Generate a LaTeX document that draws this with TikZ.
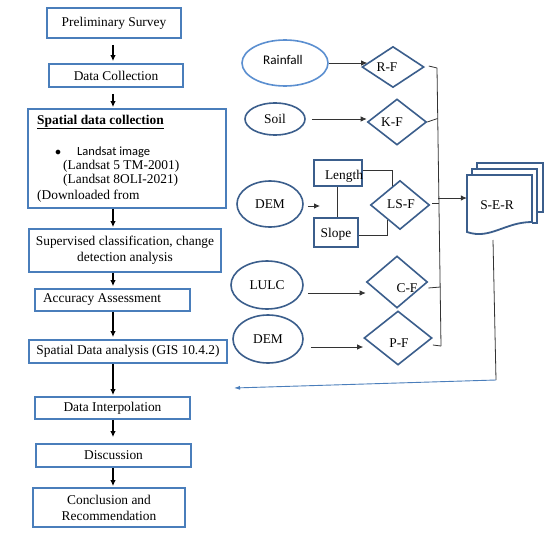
\documentclass[tikz,border=0pt]{standalone}
\usepackage{fontspec}
\setmainfont{Liberation Serif}
\newfontfamily\calib{Carlito}
\usetikzlibrary{shapes.geometric,arrows.meta,calc}
\definecolor{boxblue}{HTML}{4A7EBB}
\definecolor{dblue}{HTML}{3B5E8C}
\definecolor{lblue}{HTML}{5B8FD0}
\definecolor{conncol}{HTML}{333333}
\begin{document}
\begin{tikzpicture}[x=1pt,y=-1pt,
  font=\fontsize{13.4}{16}\selectfont,
  lbox/.style={draw=boxblue, line width=1.8pt, rectangle, inner sep=0pt, align=center},
  ell/.style={ellipse, draw=dblue, line width=1.6pt, inner sep=0pt},
  dia/.style={diamond, draw=dblue, line width=1.6pt, inner sep=0pt},
  sbox/.style={draw=dblue, line width=1.8pt, rectangle, inner sep=0pt},
  txt/.style={inner sep=0pt},
  arr/.style={-{Latex[length=6pt,width=5.5pt]}, line width=1.2pt},
  conn/.style={draw=conncol, line width=0.8pt},
  carr/.style={conn, -{Latex[length=6pt,width=5.5pt]}},
  barr/.style={draw=boxblue, line width=0.9pt, -{Latex[length=6pt,width=4pt]}}]
\useasboundingbox (0,0) rectangle (554,538);
\fill[white] (0,0) rectangle (554,538);

% ---------- left column ----------
\node[lbox, minimum width=134pt, minimum height=30pt] (ps) at (114,23) {Preliminary Survey};
\node[lbox, minimum width=134pt, minimum height=23pt] (dc) at (116,75.5) {Data Collection};
\node[lbox, minimum width=198pt, minimum height=99pt] (sdc) at (127,158.5) {};
\node[txt, anchor=west] (sdct) at (37,122) {\underline{\textbf{Spatial data collection}}};
\node[txt] (bul) at (58,153) {\calib\fontsize{12.5}{14}\selectfont$\bullet$};
\node[txt, anchor=west] (lsi) at (77,152) {\calib\fontsize{12.5}{14}\selectfont Landsat image};
\node[txt, anchor=west] (ls5) at (63,166) {(Landsat 5 TM-2001)};
\node[txt, anchor=west] (ls8) at (63,180) {(Landsat 8OLI-2021)};
\node[txt, anchor=west] (dlf) at (37,196) {(Downloaded from};
\node[lbox, minimum width=192pt, minimum height=43pt] (sup) at (125,250.5) {Supervised classification, change\\detection analysis};
\node[lbox, minimum width=155pt, minimum height=22pt] (acc) at (112.5,300) {};
\node[txt] (acct) at (102,300) {Accuracy Assessment};
\node[lbox, minimum width=198pt, minimum height=23pt] (sda) at (128,351.5) {Spatial Data analysis (GIS 10.4.2)};
\node[lbox, minimum width=155pt, minimum height=22pt] (di) at (112.5,408) {Data Interpolation};
\node[lbox, minimum width=155pt, minimum height=23pt] (dis) at (113.5,455.5) {Discussion};
\node[lbox, minimum width=152pt, minimum height=39pt] (con) at (109,507.5) {Conclusion and\\Recommendation};

\coordinate (col) at (113,0);
\draw[arr] ([yshift=-6pt]ps.south -| col) -- ([yshift=2pt]dc.north -| col);
\draw[arr] ([yshift=-6pt]dc.south -| col) -- ([yshift=1pt]sdc.north -| col);
\draw[arr] (sdc.south -| col) -- ([yshift=1pt]sup.north -| col);
\draw[arr] (sup.south -| col) -- ([yshift=2pt]acc.north -| col);
\draw[arr] (acc.south -| col) -- ([yshift=2pt]sda.north -| col);
\draw[arr] (sda.south -| col) -- ([yshift=1pt]di.north -| col);
\draw[arr] (di.south -| col) -- ([yshift=6pt]dis.north -| col);
\draw[arr] (dis.south -| col) -- ([yshift=1pt]con.north -| col);

% ---------- right side ----------
\node[ell, draw=lblue, minimum width=86pt, minimum height=46pt] (rain) at (285,63) {};
\node[txt] (raint) at (283,60) {\calib\fontsize{13.2}{15}\selectfont Rainfall};
\node[ell, minimum width=60pt, minimum height=32pt] (soil) at (275,119) {Soil};
\node[ell, minimum width=66pt, minimum height=46pt] (dem1) at (270,204) {DEM};
\node[ell, minimum width=72pt, minimum height=48pt] (lulc) at (267,285) {LULC};
\node[ell, minimum width=70pt, minimum height=48pt] (dem2) at (268,339) {DEM};

\node[dia, minimum width=62pt, minimum height=41pt] (rf) at (393,67) {};
\node[txt] (rft) at (387,67) {R-F};
\node[dia, minimum width=59pt, minimum height=46pt] (kf) at (397,122) {};
\node[txt] (kft) at (392,122) {K-F};
\node[dia, minimum width=59pt, minimum height=49pt] (lsf) at (400,205) {};
\node[txt] (lsft) at (401,204) {LS-F};
\node[dia, minimum width=61pt, minimum height=52pt] (cf) at (397,282) {};
\node[txt] (cft) at (407,288) {C-F};
\node[dia, minimum width=68pt, minimum height=54pt] (pf) at (398,338) {};
\node[txt] (pft) at (399,343) {P-F};

\node[sbox, minimum width=48pt, minimum height=26pt] (len) at (338,173) {};
\node[txt] (lent) at (344,176) {Length};
\node[sbox, minimum width=44pt, minimum height=29pt] (slope) at (336,232.5) {};
\node[txt] (slopet) at (336,234) {Slope};

% S-E-R multi-document
\draw[dblue, line width=1.8pt] (477,169) -- (477,163) -- (543,163) -- (543,212) -- (537,212);
\draw[dblue, line width=1.8pt] (472,175) -- (472,169) -- (537,169) -- (537,223) -- (532,223);
\draw[dblue, line width=1.8pt, fill=white] (467,232) -- (467,175) -- (532,175) -- (532,222)
   .. controls (505,222) and (490,240) .. (467,232) -- cycle;
\node[txt, minimum width=65pt, minimum height=57pt] (ser) at (499.5,203.5) {};
\node[txt] (sert) at (497,205) {S-E-R};

% arrows into factors
\draw[carr] (rain.east) -- ([xshift=6pt]rain.east -| rf.west);
\draw[carr] ([xshift=6pt]soil.east) -- (soil.east -| kf.west);
\coordinate (dtip) at (320,206);
\draw[carr] ($(dem1.east)+(4,2)$) -- (dtip);
\draw[carr] ($(lulc.east)+(4,8)$) -- ($(lulc.east -| cf.west)+(0,8)$);
\draw[carr] ($(dem2.east)+(7,8)$) -- ($(dem2.east -| pf.west)+(0,8)$);

% Length / Slope to LS-F
\draw[conn] ($(len.south)+(-1,0)$) -- ($(slope.north)+(1,0)$);
\coordinate (lsa) at ($(lsf.north)!0.24!(lsf.west)$);
\coordinate (lsb) at ($(lsf.south)!0.4!(lsf.west)$);
\draw[conn] ($(len.east)+(0,-3)$) -| (lsa);
\draw[conn] ($(slope.east)+(0,2.5)$) -| (lsb);

% collector
\coordinate (ctop) at (437,68);
\coordinate (cbot) at (441,346);
\draw[conn] (ctop) -- (cbot);
\draw[conn] ($(rf.east)+(4,-1)$) -- (ctop);
\coordinate (ck) at (437.5,118.5);
\draw[conn] (kf.east) -- (ck);
\coordinate (cls) at (438.5,203);
\draw[conn] ($(lsf.east)+(2,-2)$) -- (cls);
\coordinate (cls2) at (438.3,198);
\draw[carr] (cls2) -- (ser.west |- cls2);
\coordinate (cc) at (440.5,287);
\draw[conn] ($(cf.east)+(0,6)$) -- (cc);
\draw[conn] ($(pf.east)+(0,7)$) -- (cbot);

% S-E-R back to analysis
\coordinate (sst) at (493,240);
\coordinate (sb) at (496,380);
\coordinate (bend) at (234,388);
\draw[conn] (sst) -- (sb);
\draw[barr] (sb) -- (bend);
\end{tikzpicture}
\end{document}
